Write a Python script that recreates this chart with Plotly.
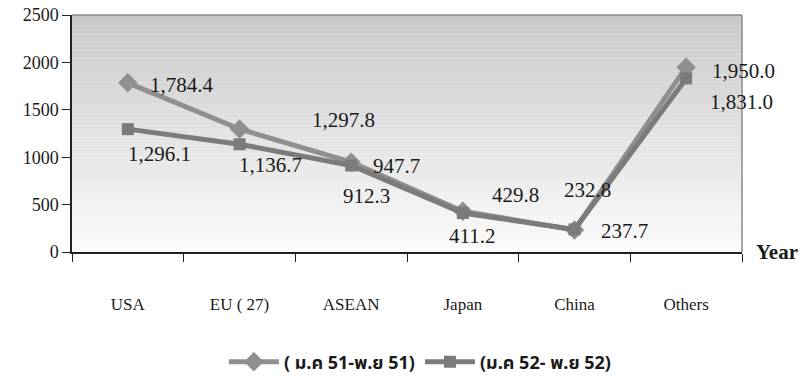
import plotly.graph_objects as go

# Export destinations
categories = ["USA", "EU ( 27)", "ASEAN", "Japan", "China", "Others"]
period_2008 = [1784.4, 1297.8, 947.7, 429.8, 232.8, 1950.0]
period_2009 = [1296.1, 1136.7, 912.3, 411.2, 237.7, 1831.0]
series_names = ["( ม.ค 51-พ.ย 51)", "(ม.ค 52- พ.ย 52)"]
y_ticks = [0, 500, 1000, 1500, 2000, 2500]

# Pixel offsets (dx, dy down) of each value label from its point
label_offsets_2008 = [(54, 2), (104, -9), (45, 4), (53, -16), (13, -40), (57, 4)]
label_offsets_2009 = [(32, 25), (31, 21), (15, 30), (9, 23), (50, 2), (55, 24)]

SERIF = "Liberation Serif, Times New Roman, serif"

fig = go.Figure()
fig.add_trace(go.Scatter(
    x=categories, y=period_2008, name=series_names[0], mode="lines+markers",
    line=dict(color="#8f8f8f", width=5),
    marker=dict(symbol="diamond", size=15, color="#8f8f8f"),
))
fig.add_trace(go.Scatter(
    x=categories, y=period_2009, name=series_names[1], mode="lines+markers",
    line=dict(color="#7b7b7b", width=5),
    marker=dict(symbol="square", size=12, color="#7b7b7b"),
))

# Value labels
for values, offsets in ((period_2008, label_offsets_2008), (period_2009, label_offsets_2009)):
    for cat, v, (dx, dy) in zip(categories, values, offsets):
        fig.add_annotation(
            x=cat, y=v, text=f"{v:,.1f}", showarrow=False,
            xshift=dx, yshift=-dy,
            font=dict(family=SERIF, size=21, color="#1a1a1a"),
        )

# Vertical gray gradient behind the plot area
n_bands = 60
top, bottom = 200, 251
for i in range(n_bands):
    f = (i + 0.5) / n_bands
    g = round(bottom + (top - bottom) * f)
    fig.add_shape(
        type="rect", xref="x domain", yref="y domain",
        x0=0, x1=1, y0=i / n_bands, y1=(i + 1) / n_bands,
        fillcolor=f"rgb({g},{g},{g})", line=dict(width=0), layer="below",
    )
# Thin frame on top and right
fig.add_shape(type="line", xref="x domain", yref="y domain", x0=0, x1=1, y0=1, y1=1,
              line=dict(color="#8a8a8a", width=1.5), layer="below")
fig.add_shape(type="line", xref="x domain", yref="y domain", x0=1, x1=1, y0=0, y1=1,
              line=dict(color="#8a8a8a", width=1.5), layer="below")

fig.add_annotation(
    xref="paper", yref="paper", x=1.0, y=0.0, xanchor="left", yanchor="middle",
    xshift=12, text="<b>Year</b>", showarrow=False,
    font=dict(family=SERIF, size=21, color="#1a1a1a"),
)

fig.update_layout(
    width=808, height=377,
    margin=dict(l=72, r=66, t=15, b=125, autoexpand=False),
    paper_bgcolor="white", plot_bgcolor="white",
    showlegend=True,
    legend=dict(
        orientation="h", x=0.52, xanchor="center", y=-0.464, yanchor="middle",
        xref="paper", yref="paper",
        font=dict(family="Noto Sans Thai, Tahoma, Noto Sans, sans-serif", size=18, color="#1a1a1a", weight="bold"),
        bgcolor="rgba(0,0,0,0)", itemwidth=50,
    ),
)
fig.update_xaxes(
    type="category", range=[-0.5, 5.5],
    showline=True, linecolor="#222", linewidth=1.5,
    ticks="outside", ticklen=8, tickcolor="#222", tickson="boundaries",
    showgrid=False, ticklabelstandoff=36,
    tickfont=dict(family=SERIF, size=17, color="#1a1a1a"),
)
fig.update_yaxes(
    range=[0, 2500], tickvals=y_ticks, ticktext=[str(t) for t in y_ticks],
    showline=True, linecolor="#222", linewidth=1.5,
    ticks="outside", ticklen=8, tickcolor="#222",
    showgrid=False, zeroline=False,
    tickfont=dict(family=SERIF, size=18, color="#1a1a1a"),
)

fig.write_html("out.html")
